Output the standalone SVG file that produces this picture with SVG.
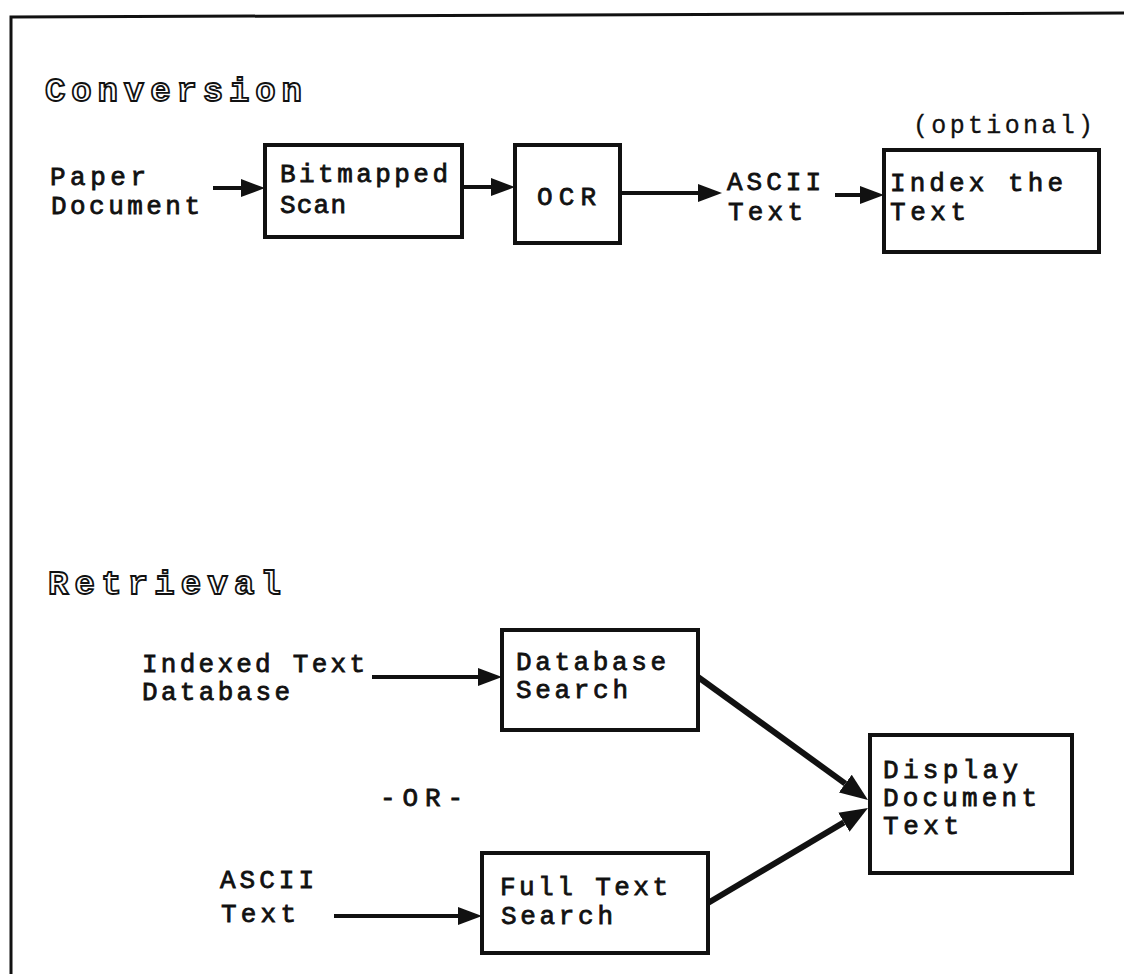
<svg xmlns="http://www.w3.org/2000/svg" width="1124" height="974" viewBox="0 0 1124 974">
<style>
  .t { font-family: "Liberation Mono", "Courier New", monospace; font-size: 26px; fill: #111; stroke: #111; stroke-width: 0.8; }
  .o { font-family: "Liberation Mono", "Courier New", monospace; font-size: 25px; fill: #111; stroke: #111; stroke-width: 0.3; }
  .h { font-family: "Liberation Mono", "Courier New", monospace; font-size: 34px; font-weight: bold; fill: #fff; stroke: #111; stroke-width: 1.8; }
  .box { fill: #fff; stroke: #111; stroke-width: 4; }
  .ln { fill: none; stroke: #111; stroke-width: 4; }
  .dl { fill: none; stroke: #111; stroke-width: 6; }
</style>
<defs>
  <marker id="ah" viewBox="0 -10 26 20" markerWidth="26" markerHeight="20" refX="0" refY="0" orient="auto" markerUnits="userSpaceOnUse">
    <path d="M0,-9 L24,0 L0,9 z" fill="#111"/>
  </marker>
  <marker id="ahb" viewBox="0 -12 30 24" markerWidth="30" markerHeight="24" refX="0" refY="0" orient="auto" markerUnits="userSpaceOnUse">
    <path d="M0,-11 L28,0 L0,11 z" fill="#111"/>
  </marker>
</defs>
<rect width="1124" height="974" fill="#fff"/>
<g id="frame">
  <path d="M11,974 L11,17 L1124,13" fill="none" stroke="#111" stroke-width="3"/>
</g>
<g id="headings">
  <text class="h" x="45" y="101" textLength="257" lengthAdjust="spacing">Conversion</text>
  <text class="h" x="48" y="594" textLength="233" lengthAdjust="spacing">Retrieval</text>
</g>
<g id="paper">
  <text class="t" x="50" y="185" textLength="96" lengthAdjust="spacing">Paper</text>
  <text class="t" x="51" y="214" textLength="149" lengthAdjust="spacing">Document</text>
</g>
<g id="bitmapped">
  <rect class="box" x="265" y="145" width="197" height="92"/>
  <text class="t" x="280" y="182" textLength="168" lengthAdjust="spacing">Bitmapped</text>
  <text class="t" x="280" y="213" textLength="66" lengthAdjust="spacing">Scan</text>
</g>
<g id="ocr">
  <rect class="box" x="515" y="145" width="105" height="98"/>
  <text class="t" x="537" y="205" textLength="59" lengthAdjust="spacing">OCR</text>
</g>
<g id="ascii1">
  <text class="t" x="727" y="190" textLength="94" lengthAdjust="spacing">ASCII</text>
  <text class="t" x="728" y="220" textLength="75" lengthAdjust="spacing">Text</text>
</g>
<g id="index">
  <text class="o" x="913" y="133" textLength="180" lengthAdjust="spacing">(optional)</text>
  <rect class="box" x="884" y="150" width="215" height="102"/>
  <text class="t" x="890" y="191" textLength="173" lengthAdjust="spacing">Index the</text>
  <text class="t" x="890" y="220" textLength="76" lengthAdjust="spacing">Text</text>
</g>
<g id="indexeddb">
  <text class="t" x="142" y="672" textLength="223" lengthAdjust="spacing">Indexed Text</text>
  <text class="t" x="142" y="700" textLength="148" lengthAdjust="spacing">Database</text>
</g>
<g id="dbsearch">
  <rect class="box" x="502" y="630" width="196" height="100"/>
  <text class="t" x="516" y="670" textLength="150" lengthAdjust="spacing">Database</text>
  <text class="t" x="516" y="698" textLength="112" lengthAdjust="spacing">Search</text>
</g>
<g id="or">
  <text class="t" x="380" y="806" textLength="83" lengthAdjust="spacing">-OR-</text>
</g>
<g id="ascii2">
  <text class="t" x="220" y="888" textLength="94" lengthAdjust="spacing">ASCII</text>
  <text class="t" x="221" y="922" textLength="75" lengthAdjust="spacing">Text</text>
</g>
<g id="fulltext">
  <rect class="box" x="482" y="853" width="226" height="100"/>
  <text class="t" x="500" y="895" textLength="168" lengthAdjust="spacing">Full Text</text>
  <text class="t" x="501" y="924" textLength="112" lengthAdjust="spacing">Search</text>
</g>
<g id="display">
  <rect class="box" x="870" y="735" width="202" height="138"/>
  <text class="t" x="883" y="778" textLength="135" lengthAdjust="spacing">Display</text>
  <text class="t" x="883" y="806" textLength="154" lengthAdjust="spacing">Document</text>
  <text class="t" x="883" y="834" textLength="76" lengthAdjust="spacing">Text</text>
</g>
<g id="connectors">
  <path class="ln" d="M213,188 L241,188" marker-end="url(#ah)"/>
  <path class="ln" d="M462,187 L491,187" marker-end="url(#ah)"/>
  <path class="ln" d="M620,193 L698,193" marker-end="url(#ah)"/>
  <path class="ln" d="M835,195 L860,195" marker-end="url(#ah)"/>
  <path class="ln" d="M372,677 L478,677" marker-end="url(#ah)"/>
  <path class="ln" d="M334,916 L458,916" marker-end="url(#ah)"/>
  <path class="dl" d="M698,677 L845.3,783.6" marker-end="url(#ahb)"/>
  <path class="dl" d="M708,903 L843.9,822.3" marker-end="url(#ahb)"/>
</g>
</svg>
